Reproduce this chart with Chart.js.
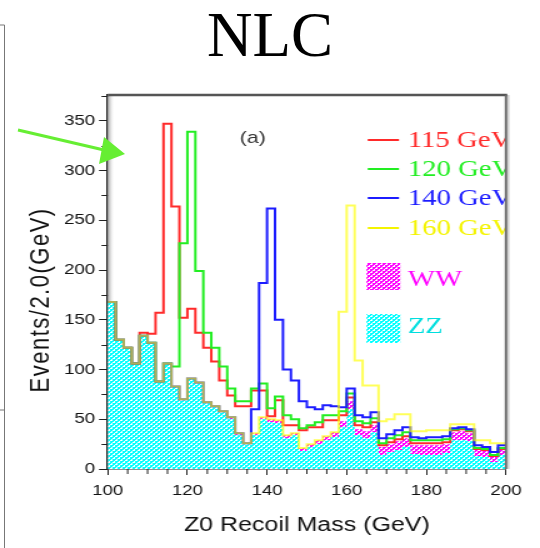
<!DOCTYPE html>
<html>
<head>
<meta charset="utf-8">
<script src="https://cdn.jsdelivr.net/npm/chart.js@4.4.1/dist/chart.umd.min.js"></script>
<style>
html, body { margin: 0; padding: 0; background: #fff; }
body { width: 540px; height: 548px; position: relative; overflow: hidden; }
#title { position: absolute; left: 0; top: 4px; width: 540px; text-align: center;
         font: 63px/63px "Liberation Serif", "Times New Roman", serif; color: #000; }
/* the plot is drawn narrow and widened, so its lettering comes out broad like the original figure */
#plotWrap { position: absolute; left: 0; top: 0; width: 432px; height: 548px;
            transform: scaleX(1.25); transform-origin: 0 0; }
#marks { position: absolute; left: 0; top: 0; }
</style>
</head>
<body>
<div id="plotWrap"><canvas id="recoilChart"></canvas></div>
<div id="title">NLC</div>
<svg id="marks" width="540" height="548">
  <polyline points="0,25 4.5,25 4.5,548" fill="none" stroke="#777" stroke-width="1"/>
  <line x1="0" y1="410" x2="4.5" y2="410" stroke="#777" stroke-width="1"/>
  <line x1="18" y1="130" x2="104" y2="150" stroke="#66ee33" stroke-width="3"/>
  <polygon points="125,154 104,137 99,164" fill="#66ee33"/>
</svg>
<script>
// Z0 recoil mass, 2 GeV bins from 100 to 200 GeV
const binLow = 100;
const binWidth = 2;

// backgrounds (stacked: ZZ underneath, WW on top)
const zz = [168, 130, 122, 106, 134, 126, 88, 105, 83, 69,
            91, 86, 66, 62, 57, 50, 34, 25, 34, 50,
            47, 46, 31, 34, 18, 22, 25, 29, 32, 42,
            60, 34, 31, 37, 14, 17, 19, 22, 15, 14,
            14, 14, 16, 29, 29, 28, 13, 12, 7, 14];
const ww = [0, 0, 0, 0, 0, 1, 0, 1, 0, 1,
            0, 1, 1, 1, 1, 2, 2, 1, 2, 2,
            3, 3, 3, 2, 3, 3, 4, 4, 5, 6,
            8, 6, 7, 7, 8, 8, 9, 9, 9, 10,
            10, 10, 9, 8, 9, 8, 6, 6, 5, 5];

// signal + background for each Higgs mass
const h115 = [168, 130, 122, 106, 137, 136, 157, 347, 264, 152,
              161, 137, 122, 108, 89, 74, 63, 63, 79, 79,
              53, 69, 44, 44, 39, 42, 42, 49, 49, 54,
              72, 44, 42, 47, 24, 27, 30, 33, 26, 26,
              26, 26, 27, 39, 40, 38, 20, 19, 13, 20];
const h120 = [168, 130, 122, 106, 134, 127, 88, 106, 103, 227,
              339, 199, 137, 122, 103, 81, 68, 68, 81, 86,
              61, 73, 54, 50, 41, 44, 47, 54, 54, 58,
              76, 48, 46, 51, 26, 31, 34, 37, 29, 29,
              29, 29, 30, 40, 41, 39, 21, 20, 14, 21];
const h140 = [168, 130, 122, 106, 134, 127, 88, 106, 83, 70,
              91, 87, 67, 63, 58, 52, 36, 26, 60, 187,
              262, 150, 100, 89, 68, 62, 60, 64, 63, 62,
              81, 54, 52, 57, 31, 35, 39, 42, 32, 31,
              32, 32, 33, 41, 42, 40, 24, 22, 17, 24];
const h160 = [168, 130, 122, 106, 134, 127, 88, 106, 83, 70,
              91, 87, 67, 63, 58, 52, 36, 26, 36, 52,
              50, 49, 34, 36, 21, 25, 29, 33, 37, 158,
              265, 109, 84, 84, 48, 50, 55, 55, 38, 38,
              39, 39, 39, 45, 45, 45, 29, 29, 26, 26];

const xTicks = [100, 120, 140, 160, 180, 200];
const yTicks = [0, 50, 100, 150, 200, 250, 300, 350];

const signalKeys = [
    { label: '115 GeV', color: '#ff2a2a' },
    { label: '120 GeV', color: '#22ee22' },
    { label: '140 GeV', color: '#1c1cff' },
    { label: '160 GeV', color: '#f4f400' }
];

// one point per left bin edge, plus the closing edge at 200
function histPoints(values) {
    const pts = values.map((v, i) => ({ x: binLow + i * binWidth, y: v }));
    pts.push({ x: binLow + values.length * binWidth, y: values[values.length - 1] });
    return pts;
}

// dotted hatch for the background fills (period 4 so the widening stays even)
function hatch(color) {
    const c = document.createElement('canvas');
    c.width = 4;
    c.height = 4;
    const g = c.getContext('2d');
    g.fillStyle = color;
    g.fillRect(0, 0, 4, 4);
    g.fillStyle = '#ffffff';
    g.fillRect(0, 0, 2, 1);
    g.fillRect(3, 1, 1, 1);
    g.fillRect(2, 2, 2, 1);
    g.fillRect(1, 3, 1, 1);
    return g.createPattern(c, 'repeat');
}

const zzFill = hatch('#00ffff');
const wwFill = hatch('#ff00ff');

const frameAndKeys = {
    id: 'frameAndKeys',
    beforeDatasetsDraw(chart) {
        const { ctx, chartArea: a } = chart;
        // grey shading on the inner left edge of the frame
        const g = ctx.createLinearGradient(a.left, 0, a.left + 5, 0);
        g.addColorStop(0, '#a0a0a0');
        g.addColorStop(1, 'rgba(235,235,235,0)');
        ctx.save();
        ctx.fillStyle = g;
        ctx.fillRect(a.left, a.top, 5, a.bottom - a.top);
        ctx.restore();
    },
    afterDatasetsDraw(chart) {
        const { ctx, chartArea: a } = chart;
        ctx.save();
        ctx.beginPath();
        ctx.rect(a.left, a.top, a.right - a.left, a.bottom - a.top);
        ctx.clip();

        ctx.fillStyle = '#333';
        ctx.font = '17px "Liberation Sans", Arial, sans-serif';
        ctx.textAlign = 'center';
        ctx.textBaseline = 'middle';
        ctx.fillText('(a)', a.left + 116, 138);

        // legend keys
        const rowY = [140, 169, 198, 228];
        ctx.font = '23px "Liberation Serif", "Times New Roman", serif';
        ctx.textAlign = 'left';
        signalKeys.forEach((k, i) => {
            ctx.strokeStyle = k.color;
            ctx.lineWidth = 2;
            ctx.beginPath();
            ctx.moveTo(a.left + 208, rowY[i]);
            ctx.lineTo(a.left + 233, rowY[i]);
            ctx.stroke();
            ctx.fillStyle = k.color;
            ctx.fillText(k.label, a.left + 240, rowY[i] + 1);
        });
        ctx.fillStyle = wwFill;
        ctx.fillRect(a.left + 207, 263, 27, 27);
        ctx.fillStyle = '#ff00ff';
        ctx.fillText('WW', a.left + 240, 280);
        ctx.fillStyle = zzFill;
        ctx.fillRect(a.left + 207, 314, 27, 29);
        ctx.fillStyle = '#00dede';
        ctx.fillText('ZZ', a.left + 240, 327);
        ctx.restore();
    },
    afterDraw(chart) {
        const { ctx, chartArea: a, scales } = chart;
        ctx.save();
        // minor tick marks
        ctx.strokeStyle = '#222';
        ctx.lineWidth = 1;
        ctx.beginPath();
        for (let v = 25; v < 376; v += 50) {
            const y = Math.round(scales.y.getPixelForValue(v)) + 0.5;
            ctx.moveTo(a.left - 5, y);
            ctx.lineTo(a.left, y);
        }
        for (let v = 105; v < 200; v += 5) {
            if (v % 20 === 0) continue;
            const x = scales.x.getPixelForValue(v);
            ctx.moveTo(x, a.bottom);
            ctx.lineTo(x, a.bottom + 5);
        }
        ctx.stroke();
        // top and right sides of the frame
        ctx.strokeStyle = '#555';
        ctx.lineWidth = 2.5;
        ctx.beginPath();
        ctx.moveTo(a.left, a.top);
        ctx.lineTo(a.right + 1, a.top);
        ctx.stroke();
        ctx.strokeStyle = '#6a6a6a';
        ctx.lineWidth = 2;
        ctx.beginPath();
        ctx.moveTo(a.right, a.top);
        ctx.lineTo(a.right, a.bottom);
        ctx.stroke();
        ctx.strokeStyle = '#cfcfcf';
        ctx.lineWidth = 1.5;
        ctx.beginPath();
        ctx.moveTo(a.right + 2, a.top);
        ctx.lineTo(a.right + 2, a.bottom);
        ctx.stroke();

        // y-axis title, slightly letter-spaced
        const midY = (scales.y.getPixelForValue(0) + scales.y.getPixelForValue(350)) / 2 + 5;
        ctx.translate(32.8, midY);
        ctx.rotate(-Math.PI / 2);
        ctx.fillStyle = '#111';
        ctx.font = '22px "Liberation Sans", Arial, sans-serif';
        ctx.letterSpacing = '1.5px';
        ctx.textAlign = 'center';
        ctx.textBaseline = 'middle';
        ctx.fillText('Events/2.0(GeV)', 0, 0);
        ctx.restore();
    }
};

const lineStyle = { stepped: true, fill: false, pointRadius: 0, borderWidth: 2 };
const tickFont = { family: '"Liberation Sans", Arial, sans-serif', size: 15 };

new Chart(document.getElementById('recoilChart'), {
    type: 'line',
    data: {
        datasets: [
            { label: '160 GeV', data: histPoints(h160), borderColor: 'rgba(255,255,0,0.65)', stack: 'm160', ...lineStyle },
            { label: '140 GeV', data: histPoints(h140), borderColor: '#1c1cff', stack: 'm140', ...lineStyle },
            { label: '120 GeV', data: histPoints(h120), borderColor: '#22ee22', stack: 'm120', ...lineStyle },
            { label: '115 GeV', data: histPoints(h115), borderColor: '#ff2a2a', stack: 'm115', ...lineStyle },
            { label: 'ZZ', data: histPoints(zz), stack: 'bkg', stepped: true, pointRadius: 0,
              borderColor: 'transparent', borderWidth: 1, backgroundColor: zzFill, fill: 'origin' },
            { label: 'WW', data: histPoints(ww), stack: 'bkg', stepped: true, pointRadius: 0,
              borderColor: 'transparent', borderWidth: 1, backgroundColor: wwFill, fill: '-1' }
        ]
    },
    options: {
        responsive: true,
        maintainAspectRatio: false,
        animation: false,
        events: [],
        layout: { padding: { top: 95, right: 27.2, left: 0, bottom: 0 } },
        plugins: { legend: { display: false }, tooltip: { enabled: false } },
        scales: {
            x: {
                type: 'linear',
                min: 100,
                max: 200,
                z: 1,
                afterBuildTicks: s => { s.ticks = xTicks.map(v => ({ value: v })); },
                afterFit: s => { s.height = 79; },
                grid: { drawOnChartArea: false, drawTicks: true, tickLength: 6, color: '#222' },
                border: { display: true, color: '#222', width: 1.5 },
                ticks: { color: '#111', padding: 7, maxRotation: 0, autoSkip: false, font: tickFont },
                title: { display: true, text: 'Z0 Recoil Mass (GeV)', color: '#111',
                         font: { family: '"Liberation Sans", Arial, sans-serif', size: 20 },
                         padding: { top: 0, bottom: 11 } }
            },
            y: {
                type: 'linear',
                stacked: true,
                min: 0,
                max: 376,
                z: 1,
                afterBuildTicks: s => { s.ticks = yTicks.map(v => ({ value: v })); },
                afterFit: s => { s.width = 86.2; },
                grid: { drawOnChartArea: false, drawTicks: true, tickLength: 7, color: '#222' },
                border: { display: true, color: '#222', width: 1.5 },
                ticks: { color: '#111', padding: 3, font: tickFont }
            }
        }
    },
    plugins: [frameAndKeys]
});
</script>
</body>
</html>
